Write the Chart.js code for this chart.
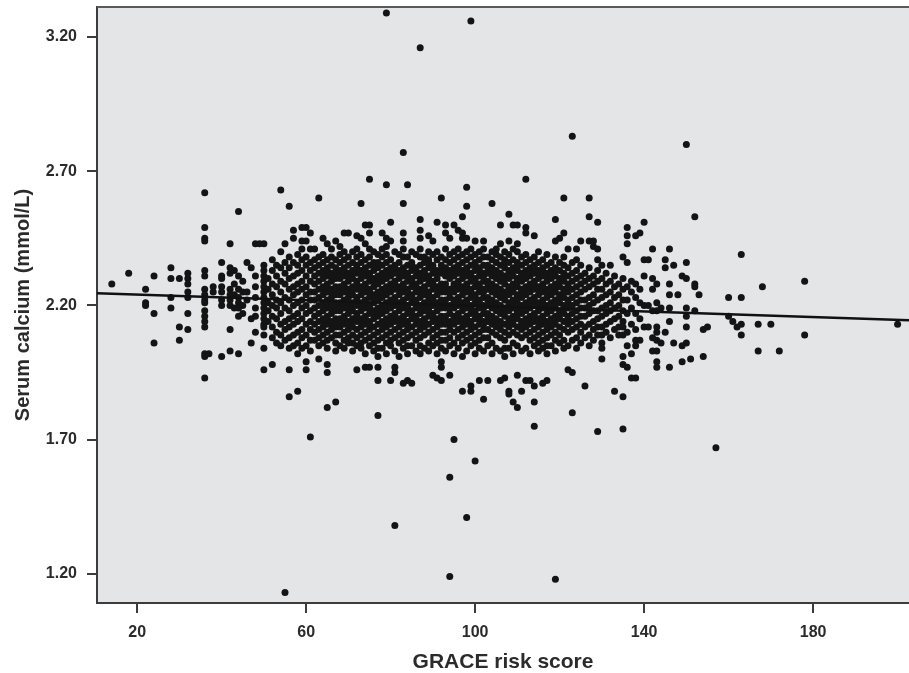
<!DOCTYPE html>
<html>
<head>
<meta charset="utf-8">
<title>Serum calcium vs GRACE risk score</title>
<script src="https://cdn.jsdelivr.net/npm/chart.js@4.4.1/dist/chart.umd.min.js"></script>
<style>
  html, body { margin: 0; padding: 0; background: #fff; }
  canvas { display: block; }
</style>
</head>
<body>
<canvas id="scatter" width="909" height="673"></canvas>
<script>
// ======================== Data ========================
// each row: [GRACE risk score, [serum calcium readings (mmol/L) at that score]]
const lowScores = [
    [14, [2.28]],
    [18, [2.32]],
    [22, [2.26, 2.21, 2.20]],
    [24, [2.31, 2.17, 2.06]],
    [28, [2.34, 2.30, 2.23, 2.19]],
    [30, [2.30, 2.12, 2.07]],
    [32, [2.32, 2.30, 2.28, 2.25, 2.23, 2.17, 2.11]],
    [36, [2.62, 2.49, 2.45, 2.44, 2.33, 2.31, 2.26, 2.24, 2.22, 2.21, 2.18, 2.16, 2.14, 2.12, 2.02, 2.01, 1.93]],
    [37, [2.02]],
    [38, [2.27, 2.25]],
    [40, [2.36, 2.31, 2.30, 2.27, 2.25, 2.22, 2.20, 2.01]],
    [42, [2.43, 2.34, 2.32, 2.26, 2.24, 2.22, 2.20, 2.11, 2.03]],
    [43, [2.33, 2.28, 2.24, 2.19]],
    [44, [2.55, 2.31, 2.26, 2.23, 2.21, 2.19, 2.16, 2.02]],
    [45, [2.29, 2.25, 2.20, 2.17]],
    [46, [2.36, 2.25, 2.22]],
    [47, [2.34, 2.15, 2.06]],
    [48, [2.43, 2.31, 2.27, 2.23, 2.19, 2.16, 2.10]],
    [49, [2.43]],
    [50, [2.43, 2.35, 2.33, 2.31, 2.29, 2.27, 2.25, 2.23, 2.21, 2.19, 2.17, 2.15, 2.13, 2.12, 2.09, 2.04, 1.96]]
];

const cloudLeft = [
    [51, [2.30, 2.26, 2.21, 2.18, 2.14]],
    [52, [2.37, 2.33, 2.28, 2.24, 2.20, 2.16, 2.12, 2.08, 1.98]],
    [53, [2.35, 2.31, 2.27, 2.22, 2.19, 2.15, 2.10, 2.06]],
    [54, [2.63, 2.40, 2.34, 2.29, 2.25, 2.21, 2.17, 2.13, 2.09, 2.05]],
    [55, [2.43, 2.36, 2.32, 2.28, 2.23, 2.19, 2.14, 2.11, 2.07, 1.13]],
    [56, [2.57, 2.38, 2.34, 2.30, 2.26, 2.22, 2.18, 2.15, 2.12, 2.08, 2.04, 1.96, 1.86]],
    [57, [2.48, 2.45, 2.36, 2.31, 2.27, 2.24, 2.20, 2.16, 2.13, 2.09, 2.05]],
    [58, [2.39, 2.35, 2.32, 2.28, 2.25, 2.21, 2.17, 2.14, 2.10, 2.06, 2.02, 1.88]],
    [59, [2.49, 2.44, 2.41, 2.37, 2.33, 2.29, 2.26, 2.22, 2.19, 2.15, 2.11, 2.08, 2.04]],
    [60, [2.49, 2.44, 2.38, 2.35, 2.31, 2.27, 2.24, 2.20, 2.17, 2.13, 2.09, 2.05, 1.99, 1.96]],
    [61, [2.47, 2.41, 2.36, 2.33, 2.29, 2.25, 2.22, 2.18, 2.14, 2.11, 2.07, 2.03, 1.71]],
    [62, [2.41, 2.37, 2.34, 2.31, 2.28, 2.25, 2.22, 2.19, 2.16, 2.13, 2.10, 2.07]],
    [63, [2.60, 2.38, 2.35, 2.32, 2.29, 2.26, 2.23, 2.20, 2.17, 2.14, 2.11, 2.08, 2.05, 2.00]],
    [64, [2.45, 2.39, 2.36, 2.33, 2.30, 2.27, 2.24, 2.21, 2.18, 2.15, 2.12, 2.09, 2.06, 2.32, 2.26, 2.20, 2.14]],
    [65, [2.43, 2.37, 2.34, 2.31, 2.28, 2.25, 2.22, 2.19, 2.16, 2.13, 2.10, 2.07, 2.04, 1.98, 1.95, 1.82, 2.33, 2.27, 2.21, 2.15]],
    [66, [2.41, 2.38, 2.35, 2.32, 2.29, 2.26, 2.23, 2.20, 2.17, 2.14, 2.11, 2.08, 2.31, 2.25, 2.19, 2.13]],
    [67, [2.44, 2.37, 2.34, 2.30, 2.27, 2.24, 2.21, 2.18, 2.15, 2.12, 2.09, 2.06, 2.03, 1.84, 2.32, 2.26, 2.20, 2.14]],
    [68, [2.42, 2.39, 2.36, 2.33, 2.30, 2.27, 2.24, 2.21, 2.18, 2.15, 2.12, 2.09, 2.05, 2.31, 2.25, 2.19, 2.13]],
    [69, [2.47, 2.40, 2.37, 2.34, 2.31, 2.28, 2.25, 2.22, 2.19, 2.16, 2.13, 2.10, 2.07, 2.04, 2.33, 2.27, 2.21, 2.15]],
    [70, [2.47, 2.38, 2.35, 2.32, 2.29, 2.26, 2.23, 2.20, 2.17, 2.14, 2.11, 2.08, 2.06, 2.31, 2.25, 2.19, 2.13]],
    [71, [2.40, 2.36, 2.33, 2.30, 2.27, 2.24, 2.21, 2.18, 2.15, 2.12, 2.09, 2.06, 2.03, 2.32, 2.26, 2.20, 2.14]],
    [72, [2.46, 2.41, 2.38, 2.35, 2.32, 2.29, 2.26, 2.23, 2.20, 2.17, 2.14, 2.11, 2.08, 2.05, 1.96, 2.34, 2.28, 2.22, 2.16]],
    [73, [2.58, 2.45, 2.39, 2.36, 2.33, 2.30, 2.27, 2.24, 2.21, 2.18, 2.15, 2.12, 2.09, 2.06, 2.04, 2.32, 2.26, 2.20, 2.14]],
    [74, [2.50, 2.43, 2.37, 2.34, 2.31, 2.28, 2.25, 2.22, 2.19, 2.16, 2.13, 2.10, 2.07, 2.02, 1.97, 2.33, 2.27, 2.21, 2.15]],
    [75, [2.67, 2.50, 2.47, 2.41, 2.38, 2.35, 2.32, 2.29, 2.26, 2.23, 2.20, 2.17, 2.14, 2.11, 2.08, 2.05, 1.97, 2.31, 2.25, 2.19, 2.13]],
    [76, [2.40, 2.36, 2.33, 2.30, 2.27, 2.24, 2.21, 2.18, 2.15, 2.12, 2.09, 2.06, 2.03, 2.35, 2.29, 2.23, 2.17]],
    [77, [2.39, 2.34, 2.31, 2.28, 2.25, 2.22, 2.19, 2.16, 2.13, 2.10, 2.07, 2.04, 2.01, 1.97, 1.92, 1.79, 2.36, 2.30, 2.24, 2.18]],
    [78, [2.47, 2.41, 2.38, 2.35, 2.32, 2.29, 2.26, 2.23, 2.20, 2.17, 2.14, 2.11, 2.08, 2.04, 2.31, 2.25, 2.19, 2.13]],
    [79, [3.29, 2.65, 2.45, 2.42, 2.39, 2.36, 2.33, 2.30, 2.27, 2.24, 2.21, 2.18, 2.15, 2.12, 2.09, 2.06, 2.02, 2.32, 2.26, 2.20, 2.14]],
    [80, [2.51, 2.44, 2.37, 2.34, 2.31, 2.28, 2.25, 2.22, 2.19, 2.16, 2.13, 2.10, 2.07, 2.05, 1.92, 2.33, 2.27, 2.21, 2.15]]
];

const cloudRight = [
    [81, [2.40, 2.35, 2.32, 2.29, 2.26, 2.23, 2.20, 2.17, 2.14, 2.11, 2.08, 2.03, 1.97, 1.95, 1.38, 2.34, 2.28, 2.22, 2.16]],
    [82, [2.39, 2.36, 2.33, 2.30, 2.27, 2.24, 2.21, 2.18, 2.15, 2.12, 2.09, 2.06, 2.01, 2.32, 2.26, 2.20, 2.14]],
    [83, [2.77, 2.58, 2.47, 2.44, 2.41, 2.38, 2.34, 2.31, 2.28, 2.25, 2.22, 2.19, 2.16, 2.13, 2.10, 2.07, 2.04, 1.91, 2.33, 2.27, 2.21, 2.15]],
    [84, [2.65, 2.38, 2.35, 2.32, 2.29, 2.26, 2.23, 2.20, 2.17, 2.14, 2.11, 2.08, 2.05, 2.02, 1.92, 2.31, 2.25, 2.19, 2.13]],
    [85, [2.40, 2.36, 2.33, 2.30, 2.27, 2.24, 2.21, 2.18, 2.15, 2.12, 2.09, 2.05, 1.91, 2.35, 2.29, 2.23, 2.17]],
    [86, [2.39, 2.34, 2.31, 2.28, 2.25, 2.22, 2.19, 2.16, 2.13, 2.10, 2.07, 2.03, 2.33, 2.27, 2.21, 2.15]],
    [87, [3.16, 2.52, 2.48, 2.45, 2.41, 2.38, 2.35, 2.32, 2.29, 2.26, 2.23, 2.20, 2.17, 2.14, 2.11, 2.08, 2.05, 2.02, 2.31, 2.25, 2.19, 2.13]],
    [88, [2.38, 2.36, 2.33, 2.30, 2.27, 2.24, 2.21, 2.18, 2.15, 2.12, 2.09, 2.04, 2.32, 2.26, 2.20, 2.14]],
    [89, [2.46, 2.40, 2.37, 2.34, 2.31, 2.28, 2.25, 2.22, 2.19, 2.16, 2.13, 2.10, 2.06, 2.03, 2.36, 2.30, 2.24, 2.18]],
    [90, [2.44, 2.39, 2.35, 2.32, 2.29, 2.26, 2.23, 2.20, 2.17, 2.14, 2.11, 2.08, 2.05, 1.94, 2.34, 2.28, 2.22, 2.16]],
    [91, [2.51, 2.40, 2.37, 2.33, 2.30, 2.27, 2.24, 2.21, 2.18, 2.15, 2.12, 2.09, 2.06, 2.02, 1.93, 2.32, 2.26, 2.20, 2.14]],
    [92, [2.60, 2.38, 2.35, 2.32, 2.28, 2.25, 2.22, 2.19, 2.16, 2.13, 2.10, 2.07, 2.04, 1.99, 1.97, 1.92, 2.33, 2.27, 2.21, 2.15]],
    [93, [2.50, 2.47, 2.41, 2.37, 2.34, 2.31, 2.28, 2.25, 2.22, 2.19, 2.16, 2.13, 2.10, 2.07, 2.03, 2.32, 2.26, 2.20, 2.14]],
    [94, [2.45, 2.39, 2.36, 2.33, 2.30, 2.26, 2.23, 2.20, 2.17, 2.14, 2.11, 2.08, 2.05, 1.94, 1.56, 1.19, 2.31, 2.25, 2.19, 2.13]],
    [95, [2.50, 2.40, 2.37, 2.34, 2.31, 2.28, 2.25, 2.22, 2.19, 2.16, 2.13, 2.10, 2.06, 2.02, 1.70, 2.33, 2.27, 2.21, 2.15]],
    [96, [2.48, 2.41, 2.38, 2.35, 2.32, 2.29, 2.26, 2.23, 2.20, 2.17, 2.14, 2.11, 2.08, 2.04, 2.34, 2.28, 2.22, 2.16]],
    [97, [2.53, 2.47, 2.45, 2.39, 2.36, 2.33, 2.30, 2.27, 2.24, 2.21, 2.18, 2.15, 2.12, 2.09, 2.06, 2.01, 1.88, 2.32, 2.26, 2.20, 2.14]],
    [98, [2.64, 2.57, 2.45, 2.40, 2.37, 2.34, 2.31, 2.28, 2.25, 2.22, 2.19, 2.16, 2.13, 2.10, 2.07, 2.03, 1.41, 2.33, 2.27, 2.21, 2.15]],
    [99, [3.26, 2.41, 2.38, 2.35, 2.32, 2.29, 2.26, 2.23, 2.20, 2.17, 2.14, 2.11, 2.08, 2.05, 1.90, 1.88, 2.31, 2.25, 2.19, 2.13]],
    [100, [2.44, 2.39, 2.36, 2.33, 2.30, 2.27, 2.24, 2.21, 2.18, 2.15, 2.12, 2.09, 2.06, 2.02, 1.62, 2.35, 2.29, 2.23, 2.17]],
    [101, [2.40, 2.37, 2.34, 2.31, 2.28, 2.25, 2.22, 2.19, 2.16, 2.13, 2.10, 2.07, 2.04, 1.92, 2.33, 2.27, 2.21, 2.15]],
    [102, [2.44, 2.41, 2.38, 2.35, 2.32, 2.29, 2.26, 2.23, 2.20, 2.17, 2.14, 2.11, 2.08, 2.03, 1.85, 2.31, 2.25, 2.19, 2.13]],
    [103, [2.38, 2.35, 2.32, 2.29, 2.26, 2.23, 2.20, 2.17, 2.14, 2.11, 2.08, 2.05, 1.92, 2.34, 2.28, 2.22, 2.16]],
    [104, [2.58, 2.40, 2.37, 2.34, 2.31, 2.28, 2.25, 2.22, 2.19, 2.16, 2.13, 2.10, 2.06, 2.02, 2.33, 2.27, 2.21, 2.15]],
    [105, [2.41, 2.39, 2.36, 2.33, 2.30, 2.27, 2.24, 2.21, 2.18, 2.15, 2.12, 2.09, 2.04, 2.32, 2.26, 2.20, 2.14]],
    [106, [2.50, 2.43, 2.38, 2.35, 2.32, 2.29, 2.26, 2.23, 2.20, 2.17, 2.14, 2.11, 2.08, 2.03, 1.92, 2.31, 2.25, 2.19, 2.13]],
    [107, [2.40, 2.37, 2.34, 2.31, 2.28, 2.25, 2.22, 2.19, 2.16, 2.13, 2.10, 2.07, 2.04, 2.01, 1.93, 2.36, 2.30, 2.24, 2.18]],
    [108, [2.54, 2.44, 2.39, 2.36, 2.33, 2.30, 2.27, 2.24, 2.21, 2.18, 2.15, 2.12, 2.09, 2.04, 1.88, 1.87, 2.32, 2.26, 2.20, 2.14]],
    [109, [2.50, 2.41, 2.37, 2.34, 2.31, 2.28, 2.25, 2.22, 2.19, 2.16, 2.13, 2.10, 2.06, 2.02, 1.84, 2.33, 2.27, 2.21, 2.15]],
    [110, [2.50, 2.43, 2.40, 2.36, 2.33, 2.30, 2.27, 2.24, 2.21, 2.18, 2.15, 2.12, 2.09, 2.05, 1.94, 1.82, 2.35, 2.29, 2.23, 2.17]],
    [111, [2.38, 2.35, 2.32, 2.29, 2.26, 2.23, 2.20, 2.17, 2.14, 2.11, 2.08, 2.03, 1.88, 2.31, 2.25, 2.19, 2.13]],
    [112, [2.67, 2.49, 2.47, 2.39, 2.36, 2.33, 2.30, 2.27, 2.24, 2.21, 2.18, 2.15, 2.12, 2.09, 2.04, 1.92, 2.32, 2.26, 2.20, 2.14]],
    [113, [2.37, 2.34, 2.31, 2.28, 2.25, 2.22, 2.19, 2.16, 2.13, 2.10, 2.07, 2.02, 1.92, 2.33, 2.27, 2.21, 2.15]],
    [114, [2.46, 2.38, 2.35, 2.32, 2.29, 2.26, 2.23, 2.20, 2.17, 2.14, 2.11, 2.08, 2.05, 1.90, 1.84, 1.75, 2.34, 2.28, 2.22, 2.16]],
    [115, [2.40, 2.36, 2.33, 2.30, 2.27, 2.24, 2.21, 2.18, 2.15, 2.12, 2.09, 2.06, 2.03, 2.32, 2.26, 2.20, 2.14]],
    [116, [2.37, 2.34, 2.31, 2.28, 2.25, 2.22, 2.19, 2.16, 2.13, 2.10, 2.07, 2.04, 1.91, 2.33, 2.27, 2.21, 2.15]],
    [117, [2.39, 2.35, 2.32, 2.29, 2.26, 2.23, 2.20, 2.17, 2.14, 2.11, 2.08, 2.05, 2.02, 1.92, 2.31, 2.25, 2.19, 2.13]],
    [118, [2.36, 2.33, 2.30, 2.27, 2.24, 2.21, 2.18, 2.15, 2.12, 2.09, 2.05, 2.32, 2.26, 2.20, 2.14]],
    [119, [2.52, 2.44, 2.38, 2.34, 2.31, 2.28, 2.25, 2.22, 2.19, 2.16, 2.13, 2.10, 2.07, 2.03, 1.18, 2.33, 2.27, 2.21, 2.15]],
    [120, [2.45, 2.36, 2.33, 2.30, 2.27, 2.24, 2.21, 2.18, 2.15, 2.12, 2.09, 2.06, 2.29, 2.23, 2.17]],
    [121, [2.60, 2.47, 2.38, 2.35, 2.32, 2.29, 2.26, 2.23, 2.20, 2.17, 2.14, 2.11, 2.07, 2.04, 2.31, 2.25, 2.19]],
    [122, [2.41, 2.34, 2.31, 2.28, 2.25, 2.22, 2.19, 2.16, 2.13, 2.10, 2.05, 1.96, 2.27, 2.21, 2.15]],
    [123, [2.83, 2.36, 2.32, 2.29, 2.26, 2.23, 2.20, 2.17, 2.14, 2.11, 2.07, 1.95, 1.80]],
    [124, [2.41, 2.37, 2.33, 2.30, 2.27, 2.24, 2.21, 2.18, 2.15, 2.12, 2.08, 2.04]],
    [125, [2.44, 2.35, 2.31, 2.28, 2.25, 2.22, 2.19, 2.16, 2.13, 2.10, 2.06]],
    [126, [2.32, 2.29, 2.26, 2.22, 2.19, 2.16, 2.12, 2.08, 1.90]],
    [127, [2.60, 2.53, 2.44, 2.34, 2.30, 2.27, 2.23, 2.20, 2.17, 2.13, 2.09, 2.05]],
    [128, [2.44, 2.42, 2.31, 2.28, 2.24, 2.21, 2.18, 2.14, 2.11, 2.07]],
    [129, [2.51, 2.41, 2.37, 2.33, 2.29, 2.26, 2.22, 2.18, 2.15, 2.12, 2.09, 1.73]],
    [130, [2.35, 2.30, 2.26, 2.23, 2.19, 2.16, 2.12, 2.09, 2.06, 2.04, 2.00]],
    [131, [2.32, 2.28, 2.24, 2.20, 2.17, 2.13, 2.10]],
    [132, [2.35, 2.29, 2.25, 2.21, 2.18, 2.14, 2.08]],
    [133, [2.31, 2.27, 2.23, 2.19, 2.15, 2.11, 1.88]],
    [134, [2.28, 2.24, 2.20, 2.16, 2.12, 2.09]],
    [135, [2.38, 2.30, 2.26, 2.22, 2.18, 2.14, 2.12, 2.09, 2.01, 1.98, 1.86, 1.74]],
    [136, [2.49, 2.46, 2.43, 2.36, 2.27, 2.22, 2.17, 2.10, 2.05, 1.97]],
    [137, [2.29, 2.25, 2.19, 2.13, 2.02, 1.93]],
    [138, [2.46, 2.28, 2.23, 2.17, 2.11, 2.07, 2.05, 1.93]],
    [139, [2.47, 2.26, 2.21, 2.15, 2.07]],
    [140, [2.51, 2.37, 2.31, 2.20, 2.12]]
];

const highScores = [
    [141, [2.37, 2.20, 2.12]],
    [142, [2.41, 2.30, 2.26, 2.18, 2.08, 2.03]],
    [143, [2.28, 2.21, 2.18, 2.12, 2.10, 2.07, 2.03, 1.99, 1.97]],
    [144, [2.19, 2.06]],
    [145, [2.37, 2.34, 2.10]],
    [146, [2.41, 2.28, 2.24, 2.19, 2.14, 1.97]],
    [147, [2.35, 2.06]],
    [148, [2.24]],
    [149, [2.31, 2.05, 1.99]],
    [150, [2.80, 2.36, 2.30, 2.19, 2.16, 2.12, 2.06]],
    [151, [2.00]],
    [152, [2.53, 2.28, 2.27, 2.18]],
    [153, [2.24]],
    [154, [2.11, 2.01]],
    [155, [2.12]],
    [157, [1.67]],
    [160, [2.23, 2.16]],
    [161, [2.14]],
    [162, [2.12]],
    [163, [2.39, 2.23, 2.13, 2.09]],
    [167, [2.13, 2.03]],
    [168, [2.27]],
    [170, [2.13]],
    [172, [2.03]],
    [178, [2.29, 2.09]],
    [200, [2.13]]
];

// linear fit across the full score range
const fitScores = [10.5, 202.7];
const fitCalcium = [2.245, 2.145];

const scoreTicks = [20, 60, 100, 140, 180];
const calciumTicks = [1.20, 1.70, 2.20, 2.70, 3.20];

// ======================== Helpers ========================
function toPoints(rows) {
    let pts = [];
    rows.forEach(([score, values]) => {
        values.forEach(v => pts.push({ x: score, y: v }));
    });
    return pts;
}

const patients = [lowScores, cloudLeft, cloudRight, highScores].flatMap(toPoints);
const fitLine = fitScores.map((s, i) => ({ x: s, y: fitCalcium[i] }));

const FONT = "'Liberation Sans', Arial, sans-serif";
const INK = '#2b2b2b';
const AXIS = '#3c3c3c';

// grey plot panel and its top edge
const plotFrame = {
    id: 'plotFrame',
    beforeDraw(chart) {
        const { ctx, chartArea: a } = chart;
        ctx.save();
        ctx.fillStyle = '#e4e5e7';
        ctx.fillRect(a.left, a.top, a.right - a.left, a.bottom - a.top);
        ctx.restore();
    },
    afterDraw(chart) {
        const { ctx, chartArea: a } = chart;
        ctx.save();
        ctx.strokeStyle = '#5a5a5a';
        ctx.lineWidth = 2;
        ctx.beginPath();
        ctx.moveTo(a.left, a.top);
        ctx.lineTo(a.right, a.top);
        ctx.stroke();
        ctx.restore();
    }
};

// ======================== Chart ========================
let ctx = document.getElementById('scatter').getContext('2d');

let scatterChart = new Chart(ctx, {
    type: 'scatter',
    data: {
        datasets: [{
            type: 'line',
            label: 'Fit',
            data: fitLine,
            borderColor: '#111',
            borderWidth: 2.5,
            pointRadius: 0,
            fill: false,
            order: 0
        }, {
            label: 'Patients',
            data: patients,
            pointRadius: 3.5,
            pointBackgroundColor: '#141414',
            pointBorderWidth: 0,
            order: 1
        }]
    },
    options: {
        responsive: false,
        animation: false,
        devicePixelRatio: 1,
        layout: { autoPadding: false, padding: { top: 7, right: 0, bottom: 0, left: 0 } },
        plugins: {
            legend: { display: false },
            tooltip: { enabled: false }
        },
        scales: {
            x: {
                type: 'linear',
                min: 10.5,
                max: 202.7,
                afterFit: s => {
                    s.height = 70;
                    s.paddingLeft = 0;
                    s.paddingRight = 0;
                },
                afterBuildTicks: s => { s.ticks = scoreTicks.map(v => ({ value: v })); },
                border: { display: true, color: AXIS, width: 2 },
                grid: { display: true, drawOnChartArea: false, drawTicks: true, tickLength: 10, color: AXIS, lineWidth: 2 },
                ticks: {
                    padding: 10,
                    maxRotation: 0,
                    color: INK,
                    font: { family: FONT, size: 16, weight: 'bold' },
                    callback: v => String(v)
                },
                title: {
                    display: true,
                    text: 'GRACE risk score',
                    color: INK,
                    font: { family: FONT, size: 21, weight: 'bold' },
                    padding: { top: 0, bottom: -2 }
                }
            },
            y: {
                type: 'linear',
                min: 1.0912,
                max: 3.312,
                afterFit: s => {
                    s.width = 97;
                    s.paddingTop = 0;
                    s.paddingBottom = 0;
                },
                afterBuildTicks: s => { s.ticks = calciumTicks.map(v => ({ value: v })); },
                border: { display: true, color: AXIS, width: 2 },
                grid: { display: true, drawOnChartArea: false, drawTicks: true, tickLength: 10, color: AXIS, lineWidth: 2 },
                ticks: {
                    padding: 10,
                    color: INK,
                    font: { family: FONT, size: 16, weight: 'bold' },
                    callback: v => v.toFixed(2)
                },
                title: {
                    display: true,
                    text: 'Serum calcium (mmol/L)',
                    color: INK,
                    font: { family: FONT, size: 20, weight: 'bold' },
                    padding: { top: 11, bottom: 0 }
                }
            }
        }
    },
    plugins: [plotFrame]
});
</script>
</body>
</html>
